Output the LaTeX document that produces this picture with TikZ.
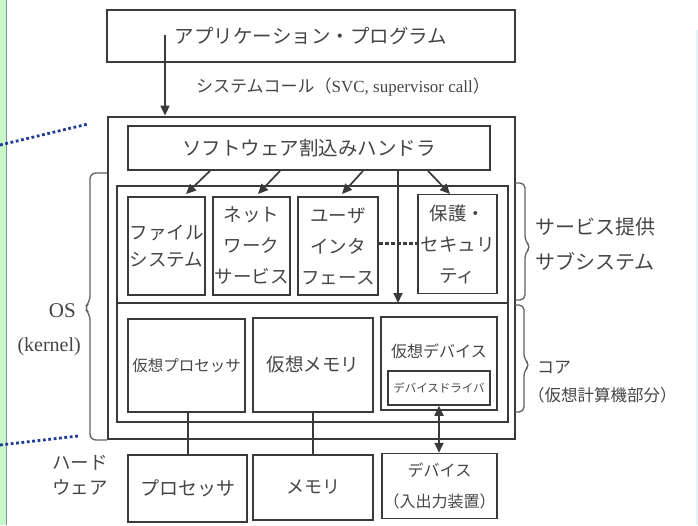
\documentclass[tikz,border=0pt]{standalone}
\usepackage{fontspec}
\setmainfont{Liberation Serif}
\newfontfamily\jp{Noto Sans CJK JP}
\usetikzlibrary{arrows.meta}
\definecolor{ln}{HTML}{3A3A3A}
\definecolor{tx}{HTML}{454545}
\definecolor{dotblue}{HTML}{1F3C96}
\definecolor{strip}{HTML}{C8F7C8}
\definecolor{stripline}{HTML}{7F8FB0}
\definecolor{edge}{HTML}{E2F3F8}
\newcommand{\fsize}[2]{\fontsize{#1}{#2}\selectfont}
\begin{document}
\begin{tikzpicture}[x=1pt,y=-1pt,
  bx/.style 2 args={draw=ln, line width=1.5pt, minimum width=#1, minimum height=#2,
    inner sep=0pt, text=tx, align=center},
  txt/.style={text=tx, inner sep=0pt},
  tip/.tip={Triangle[length=10pt,width=9pt]},
  arr/.style={draw=ln, line width=1.7pt, -tip},
  brace/.style={draw=ln!80, line width=1.3pt, rounded corners=6pt},
  bluedots/.style={draw=dotblue, line width=2.8pt, dash pattern=on 2.8pt off 2.6pt}]
\useasboundingbox (0,0) rectangle (698,525);
% left strip and right edge
\fill[strip] (0,0) rectangle (6,525);
\draw[stripline, line width=1.5pt] (6.5,0) -- (6.5,525);
\draw[edge, line width=1.5pt] (697,30) -- (697,525);

% application box
\node[bx={408pt}{52pt}, line width=1.6pt] (app) at (311,36)
  {\jp\fsize{19.5}{24}アプリケーション・プログラム};
\node[txt, font=\rmfamily\fsize{17}{20}] (svc) at (343,87)
  {{\jp システムコール（}SVC, supervisor call{\jp ）}};

% OS frame and inner frame
\node[bx={407pt}{322pt}, line width=2.8pt] (os) at (311.5,278) {};
\node[bx={391pt}{236pt}, line width=2pt] (inner) at (312.5,304) {};
\coordinate (divl) at (inner.west |- 0,303);
\coordinate (divr) at (inner.east |- 0,303);
\draw[ln, line width=2pt] (divl) -- (divr);

% software interrupt handler
\node[bx={362pt}{44pt}, line width=1.8pt, fill=white] (hdl) at (309,148)
  {\jp\fsize{19.5}{24}ソフトウェア割込みハンドラ};

% service subsystem boxes
\node[bx={77pt}{98pt}, font=\jp\fsize{18.5}{27}] (fs) at (166.5,246) {ファイル\\システム};
\node[bx={77pt}{98pt}, font=\jp\fsize{18.5}{31}] (net) at (251.5,246) {ネット\\ワーク\\サービス};
\node[bx={80pt}{98pt}, font=\jp\fsize{18.5}{31}] (ui) at (338,246) {ユーザ\\インタ\\フェース};
\node[bx={79pt}{99pt}, font=\jp\fsize{18.5}{31}] (sec) at (457.5,244) {保護・\\セキュリ\\ティ};

% core boxes
\node[bx={117pt}{93pt}, font=\jp\fsize{15.5}{20}] (vp) at (186.5,365.5) {仮想プロセッサ};
\node[bx={120pt}{94pt}, font=\jp\fsize{18.5}{22}] (vm) at (313,365) {仮想メモリ};
\node[bx={116pt}{93pt}] (vd) at (439,363.5) {};
\node[txt, font=\jp\fsize{16}{20}] (vdt) at (439,351) {仮想デバイス};
\node[bx={102pt}{34pt}, font=\jp\fsize{11.5}{14}] (dd) at (439,388) {デバイスドライバ};

% hardware boxes
\node[bx={119pt}{67pt}, font=\jp\fsize{19}{24}] (hp) at (187.5,488.5) {プロセッサ};
\node[bx={120pt}{65pt}, font=\jp\fsize{18}{24}] (hm) at (313,487.5) {メモリ};
\node[bx={115pt}{65pt}, font=\jp\fsize{16}{31}] (hd) at (439.5,486) {デバイス\\（入出力装置）};

% connectors
\coordinate (a0) at (165,35);
\draw[arr] (a0) -- (a0 |- os.north);
\coordinate (t1) at (186,194);
\coordinate (t2) at (258,194);
\coordinate (t3) at (342,194);
\coordinate (t4) at (450,194);
\draw[arr] (hdl.south -| 210,0) -- (t1);
\draw[arr] (hdl.south -| 280,0) -- (t2);
\draw[arr] (hdl.south -| 363,0) -- (t3);
\draw[arr] (hdl.south -| 428,0) -- (t4);
\draw[arr] (hdl.south -| 398,0) -- (divl -| 398,0);
\draw[ln, line width=3pt, dash pattern=on 4pt off 2pt] (ui.east |- 0,243) -- (sec.west |- 0,243);

\draw[ln, line width=1.7pt] (vp.south -| 188,0) -- (hp.north -| 188,0);
\draw[ln, line width=1.7pt] (vm.south) -- (hm.north);
\draw[ln, line width=1.7pt, tip-tip] (dd.south) -- (dd.south |- hd.north);

% braces
\draw[brace] (107,173) -- (90,173) -- (90,302) -- (84,308) -- (90,314) -- (90,440) -- (107,440);
\draw[brace, rounded corners=5pt] (515,183) -- (525,183) -- (525,241) -- (531,247) -- (525,253) -- (525,300) -- (515,300);
\draw[brace, rounded corners=5pt] (515,305) -- (524,305) -- (524,359) -- (530,365) -- (524,371) -- (524,412) -- (515,412);

% side labels
\node[txt, font=\rmfamily\fsize{21}{24}, anchor=east] (oslbl) at (76,311) {OS};
\node[txt, font=\rmfamily\fsize{20}{24}, anchor=east] (kern) at (81,347) {(kernel)};
\node[txt, font=\jp\fsize{18.5}{25}, align=center] (hw) at (80,475) {ハード\\ウェア};
\node[txt, font=\jp\fsize{20}{35}, align=left, anchor=west] (svcsub) at (535,244) {サービス提供\\サブシステム};
\node[txt, font=\jp\fsize{17}{20}, anchor=west] (core1) at (537,368) {コア};
\node[txt, font=\jp\fsize{16.5}{20}, anchor=west] (core2) at (528,395) {（仮想計算機部分）};

% blue dotted pointer lines
\draw[bluedots] (0,145) -- (88,124);
\draw[bluedots] (0,445) -- (78,436);
\end{tikzpicture}
\end{document}
